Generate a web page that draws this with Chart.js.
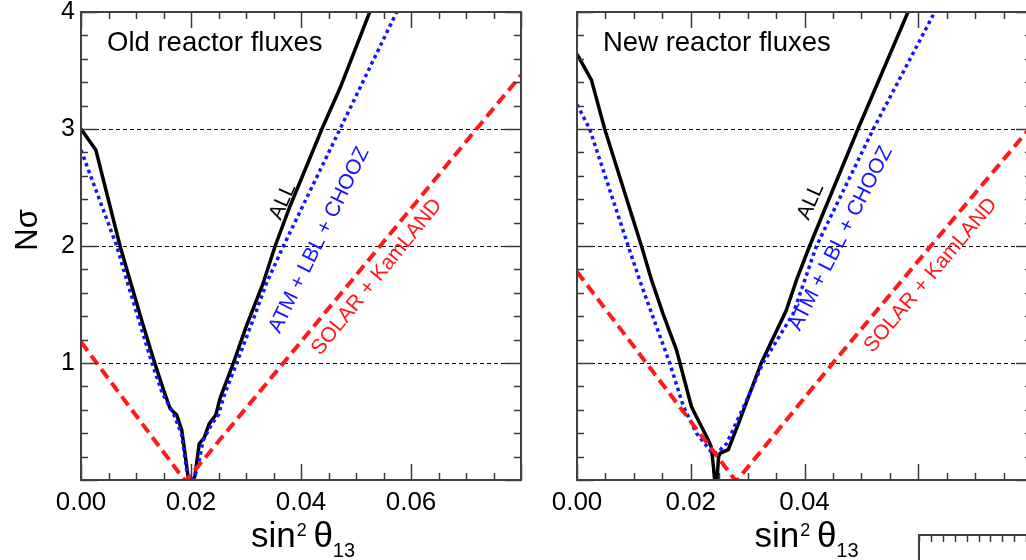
<!DOCTYPE html>
<html><head><meta charset="utf-8">
<script src="https://cdn.jsdelivr.net/npm/chart.js@4.4.1/dist/chart.umd.min.js"></script>
<style>
html,body{margin:0;padding:0;width:1026px;height:560px;overflow:hidden;background:#fff;}
canvas{position:absolute;}
</style></head><body>
<canvas id="cOld" width="545" height="560" style="left:0;top:0"></canvas>
<canvas id="cNew" width="500" height="560" style="left:540px;top:0"></canvas>
<canvas id="cBox" width="200" height="100" style="left:905px;top:525px"></canvas>
<script>
// ---------------- data ----------------
const xTickValues = [0, 0.02, 0.04, 0.06, 0.08];
const xTickLabelsOld = ['0.00', '0.02', '0.04', '0.06', ''];
const xTickLabelsNew = ['0.00', '0.02', '0.04', '', ''];
const yTickValues = [0, 1, 2, 3, 4];
const yTickLabels = ['', '1', '2', '3', '4'];

// Old reactor fluxes
const oldAllX = [0, 0.0027, 0.0071, 0.0089, 0.011, 0.0132, 0.015, 0.0162, 0.0174, 0.0183, 0.0189, 0.0195, 0.0198, 0.0203, 0.0207, 0.0215, 0.0224, 0.0233, 0.0245, 0.0253, 0.0277, 0.0301, 0.0331, 0.0353, 0.0380, 0.0438, 0.0471, 0.0525];
const oldAllY = [3.0, 2.82, 2.0, 1.71, 1.37, 1.03, 0.77, 0.61, 0.555, 0.43, 0.23, 0.015, 0.0, 0.0, 0.03, 0.31, 0.36, 0.48, 0.555, 0.70, 1.0, 1.32, 1.68, 2.0, 2.34, 3.0, 3.35, 4.0];
const oldAtmX = [0, 0.0065, 0.0083, 0.0129, 0.0148, 0.0168, 0.0183, 0.0192, 0.0199, 0.0204, 0.0212, 0.0222, 0.0238, 0.025, 0.026, 0.0283, 0.0313, 0.0337, 0.0368, 0.0471, 0.0574];
const oldAtmY = [2.82, 2.0, 1.71, 1.0, 0.74, 0.57, 0.39, 0.09, 0.0, 0.0, 0.1, 0.34, 0.48, 0.56, 0.72, 1.0, 1.37, 1.68, 2.0, 3.0, 4.0];
const oldSolX = [0, 0.00285, 0.0188, 0.0192, 0.0368, 0.0544, 0.0719, 0.08];
const oldSolY = [1.18, 1.0, 0.0, 0.0, 1.0, 2.0, 3.0, 3.46];

// New reactor fluxes
const newAllX = [0, 0.00253, 0.00487, 0.01133, 0.0131, 0.01513, 0.0175, 0.0181, 0.0201, 0.021, 0.0228, 0.0236, 0.024, 0.0242, 0.0246, 0.0249, 0.0252, 0.0266, 0.0286, 0.0324, 0.0368, 0.0386, 0.0409, 0.0494, 0.0582];
const newAllY = [3.64, 3.42, 3.0, 2.0, 1.71, 1.42, 1.11, 1.0, 0.63, 0.54, 0.37, 0.285, 0.11, 0.0, 0.0, 0.2, 0.23, 0.26, 0.51, 1.0, 1.45, 1.71, 2.0, 3.0, 4.0];
const newAtmX = [0, 0.00223, 0.009, 0.011, 0.0163, 0.0187, 0.021, 0.0228, 0.0236, 0.0242, 0.0249, 0.0256, 0.0263, 0.0298, 0.0327, 0.038, 0.0421, 0.0521, 0.0629];
const newAtmY = [3.21, 3.0, 2.0, 1.71, 1.0, 0.63, 0.40, 0.29, 0.24, 0.22, 0.24, 0.28, 0.31, 0.68, 1.0, 1.42, 2.0, 3.0, 4.0];
const newSolX = [0, 0.0122, 0.0278, 0.0282, 0.045, 0.0622, 0.0795, 0.08];
const newSolY = [1.78, 1.0, 0.0, 0.0, 1.0, 2.0, 3.0, 3.03];

// ---------------- helpers ----------------
const FONT = '"Liberation Sans", Arial, sans-serif';
const pts = (xs, ys) => xs.map((x, i) => ({x, y: ys[i]}));

const lineStyles = {
  all: {borderColor: '#000000', borderWidth: 3.5, borderDash: []},
  atm: {borderColor: '#1414ff', borderWidth: 3.5, borderDash: [3.5, 3.5]},
  sol: {borderColor: '#ff1a1a', borderWidth: 4, borderDash: [11, 6]}
};
function ds(xs, ys, style) {
  return Object.assign({data: pts(xs, ys), pointRadius: 0, tension: 0, fill: false, borderCapStyle: 'butt'}, style);
}

const framePlugin = {
  id: 'frame',
  afterDatasetsDraw(chart, args, o) {
    const {ctx, chartArea: a, scales: {x, y}} = chart;
    ctx.save();
    ctx.strokeStyle = '#3a3a3a';
    ctx.lineWidth = 1.5;
    const line = (x1, y1, x2, y2) => { ctx.beginPath(); ctx.moveTo(x1, y1); ctx.lineTo(x2, y2); ctx.stroke(); };
    const nx = Math.round((x.max - x.min) / o.xMinor);
    for (let i = 0; i <= nx; i++) {
      const v = x.min + i * o.xMinor;
      const px = Math.round(x.getPixelForValue(v)) + 0.5;
      const r = v / o.xMajor;
      const len = Math.abs(r - Math.round(r)) < 1e-6 ? o.majorLen : o.minorLen;
      if (o.bottom) line(px, a.bottom, px, a.bottom - len);
      if (o.top) line(px, a.top, px, a.top + len);
    }
    if (o.yMinor) {
      const ny = Math.round((y.max - y.min) / o.yMinor);
      for (let i = 0; i <= ny; i++) {
        const v = y.min + i * o.yMinor;
        const py = Math.round(y.getPixelForValue(v)) + 0.5;
        const r = v / o.yMajor;
        const len = Math.abs(r - Math.round(r)) < 1e-6 ? o.majorLen : o.minorLen;
        if (o.left) line(a.left, py, a.left + len, py);
        if (o.right) line(a.right, py, a.right - len, py);
      }
    }
    ctx.lineWidth = 2;
    ctx.strokeStyle = '#404040';
    ctx.strokeRect(a.left, a.top, a.right - a.left, a.bottom - a.top);
    ctx.restore();
  }
};

const textPlugin = {
  id: 'texts',
  afterDraw(chart, args, o) {
    const {ctx, chartArea: a, scales: {x, y}} = chart;
    ctx.save();
    // panel title
    if (o.title) {
      ctx.font = '27.5px ' + FONT;
      ctx.fillStyle = '#000';
      ctx.textAlign = 'left';
      ctx.textBaseline = 'alphabetic';
      ctx.fillText(o.title, a.left + o.titleDx, 51);
    }
    // rotated curve labels
    (o.labels || []).forEach(l => {
      ctx.save();
      ctx.translate(x.getPixelForValue(l.x), y.getPixelForValue(l.y));
      ctx.rotate(-l.angle * Math.PI / 180);
      ctx.font = '21px ' + FONT;
      ctx.fillStyle = l.color;
      ctx.textAlign = 'center';
      ctx.textBaseline = 'middle';
      ctx.fillText(l.text, 0, 0);
      ctx.restore();
    });
    // x title: sin^2 theta_13
    const cx = (a.left + a.right) / 2;
    const big = '35px ' + FONT, sup = '18px ' + FONT, sub = '20px ' + FONT;
    ctx.fillStyle = '#000';
    ctx.textBaseline = 'alphabetic';
    ctx.textAlign = 'left';
    ctx.font = big; const w1 = ctx.measureText('sin').width;
    ctx.font = sup; const w2 = ctx.measureText('2').width;
    ctx.font = big; const w3 = ctx.measureText(' \u03b8').width;
    ctx.font = sub; const w4 = ctx.measureText('13').width;
    let sx = cx - (w1 + w2 + w3 + w4) / 2 + 3;
    const base = 547;
    ctx.font = big; ctx.fillText('sin', sx, base); sx += w1 + 1;
    ctx.font = sup; ctx.fillText('2', sx, base - 11); sx += w2 - 3;
    ctx.font = big; ctx.fillText(' \u03b8', sx, base); sx += w3;
    ctx.font = sub; ctx.fillText('13', sx, base + 10);
    // y title
    if (o.yTitle) {
      ctx.save();
      ctx.translate(37, 230);
      ctx.rotate(-Math.PI / 2);
      ctx.font = '31px ' + FONT;
      ctx.textAlign = 'center';
      ctx.textBaseline = 'alphabetic';
      ctx.fillText(o.yTitle, 0, 0);
      ctx.restore();
    }
    ctx.restore();
  }
};

function makePanel(id, datasets, xLabels, showY, padding, yWidth, title, labels) {
  return new Chart(document.getElementById(id), {
    type: 'line',
    data: {datasets},
    plugins: [framePlugin, textPlugin],
    options: {
      responsive: false, animation: false, devicePixelRatio: 1,
      layout: {padding},
      plugins: {
        legend: {display: false}, tooltip: {enabled: false},
        frame: {xMinor: 0.005, xMajor: 0.02, yMinor: 0.2, yMajor: 1, majorLen: 16, minorLen: 7, top: true, bottom: true, left: true, right: true},
        texts: {title, titleDx: 26, labels, yTitle: showY ? 'N\u03c3' : null}
      },
      scales: {
        x: {
          type: 'linear', min: 0, max: 0.08,
          afterBuildTicks: s => { s.ticks = xTickValues.map(v => ({value: v})); },
          afterFit: s => { s.height = 80; s.paddingLeft = 0; s.paddingRight = 0; },
          ticks: {
            autoSkip: false, maxRotation: 0, padding: 10, color: '#000',
            font: {family: FONT, size: 26, lineHeight: 1},
            callback: (v, i) => xLabels[i]
          },
          grid: {display: false, drawTicks: false},
          border: {display: false}
        },
        y: {
          type: 'linear', min: 0, max: 4,
          afterBuildTicks: s => { s.ticks = yTickValues.map(v => ({value: v})); },
          afterFit: s => { s.width = yWidth; s.paddingTop = 0; s.paddingBottom = 0; },
          ticks: {
            padding: 6, color: '#000',
            font: {family: FONT, size: 25, lineHeight: 1},
            callback: (v, i) => showY ? yTickLabels[i] : ''
          },
          grid: {
            drawTicks: false, lineWidth: 1,
            color: c => (c.tick && c.tick.value > 0 && c.tick.value < 4) ? '#000' : 'rgba(0,0,0,0)'
          },
          border: {display: false, dash: [4, 3]}
        }
      }
    }
  });
}

const oldChart = makePanel('cOld', [
  ds(oldSolX, oldSolY, lineStyles.sol),
  ds(oldAtmX, oldAtmY, lineStyles.atm),
  ds(oldAllX, oldAllY, lineStyles.all)
], xTickLabelsOld, true, {left: 0, top: 12, right: 24, bottom: 0}, 81, 'Old reactor fluxes', [
  {text: 'ALL', x: 0.0367, y: 2.38, angle: 66, color: '#000'},
  {text: 'ATM + LBL + CHOOZ', x: 0.0433, y: 2.05, angle: 64, color: '#1414ff'},
  {text: 'SOLAR + KamLAND', x: 0.0538, y: 1.735, angle: 51, color: '#ff1a1a'}
]);

const newChart = makePanel('cNew', [
  ds(newSolX, newSolY, lineStyles.sol),
  ds(newAtmX, newAtmY, lineStyles.atm),
  ds(newAllX, newAllY, lineStyles.all)
], xTickLabelsNew, false, {left: 0, top: 12, right: 8, bottom: 0}, 37, 'New reactor fluxes', [
  {text: 'ALL', x: 0.0411, y: 2.38, angle: 66, color: '#000'},
  {text: 'ATM + LBL + CHOOZ', x: 0.0464, y: 2.065, angle: 63, color: '#1414ff'},
  {text: 'SOLAR + KamLAND', x: 0.0622, y: 1.75, angle: 50, color: '#ff1a1a'}
]);

// partially visible panel below (bottom right)
const boxChart = new Chart(document.getElementById('cBox'), {
  type: 'line',
  data: {datasets: [{data: []}]},
  plugins: [framePlugin],
  options: {
    responsive: false, animation: false, devicePixelRatio: 1,
    layout: {padding: {left: 14, top: 10, right: 7.5, bottom: 0}},
    plugins: {legend: {display: false}, tooltip: {enabled: false},
      frame: {xMinor: 1, xMajor: 100, yMinor: 0, yMajor: 1, majorLen: 7, minorLen: 7, top: true, bottom: false, left: false, right: false}},
    scales: {
      x: {type: 'linear', min: 0, max: 15, display: false},
      y: {type: 'linear', min: 0, max: 1, display: false}
    }
  }
});
</script>
</body></html>
